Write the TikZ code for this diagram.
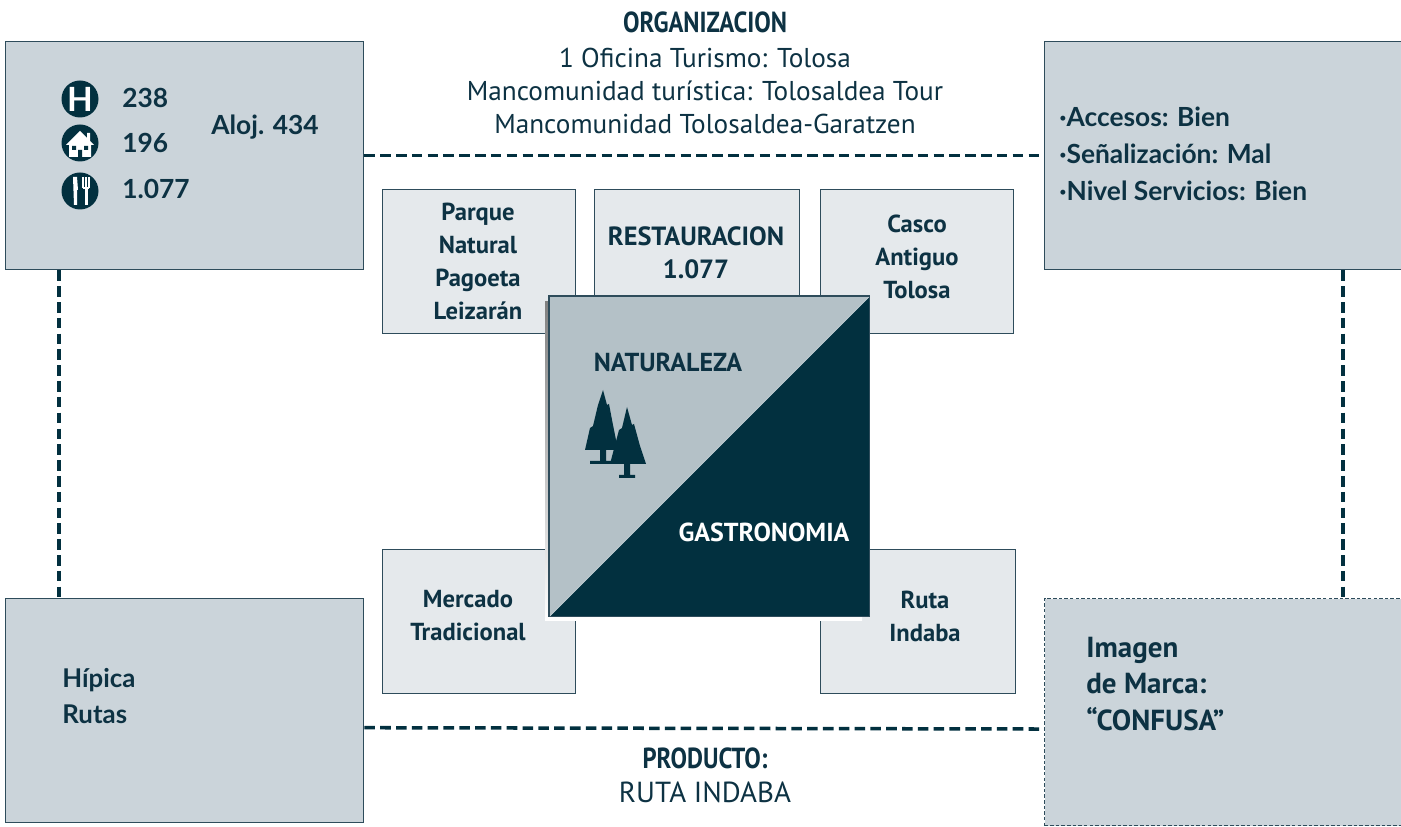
\documentclass[tikz,border=0pt]{standalone}
\usepackage{fontspec}
\usepackage{graphicx}
\setmainfont{PT Sans}
\newfontfamily\lato{Lato}
\usetikzlibrary{positioning,calc}

\definecolor{navy}{HTML}{02303F}
\definecolor{ink}{HTML}{0D3243}
\definecolor{edge}{HTML}{2E4C5B}
\definecolor{boxgrey}{HTML}{CBD4DA}
\definecolor{boxlight}{HTML}{E5E9EC}
\definecolor{naturefill}{HTML}{B4C1C7}
\definecolor{shade}{HTML}{CDD5DA}

\newcommand{\pxu}{0.02cm}

\tikzset{
  bigbox/.style={draw=edge, fill=boxgrey, line width=0.8pt, anchor=north west,
    inner sep=0pt, minimum width=358*\pxu, minimum height=228*\pxu},
  smallbox/.style={draw=edge, fill=boxlight, line width=0.7pt, anchor=north west,
    inner sep=0pt, minimum width=193*\pxu, minimum height=144*\pxu},
  link/.style={draw=navy, line width=2pt, dash pattern=on 6pt off 3pt},
  headtxt/.style={text=ink, inner sep=0pt, font=\bfseries\fontsize{16.5pt}{18pt}\selectfont},
  bodytxt/.style={text=ink, align=center, inner sep=0pt, font=\fontsize{15.5pt}{18.8pt}\selectfont},
  boxtxt/.style={text=ink, align=center, inner sep=0pt, font=\bfseries\fontsize{14pt}{18.8pt}\selectfont},
  factstxt/.style={text=ink, align=left, anchor=west, inner sep=0pt, font=\lato\bfseries\fontsize{15pt}{21pt}\selectfont},
  icon/.style={circle, fill=navy, minimum size=37*\pxu, inner sep=0pt}
}

\begin{document}
\begin{tikzpicture}[x=0.02cm, y=-0.02cm]
\useasboundingbox (0,0) rectangle (1401,827);
\fill[white] (0,0) rectangle (1401,827);

% corner boxes
\node[bigbox] (lodging) at (5,41) {};
\node[bigbox, minimum width=362*\pxu] (access) at (1044,41) {};
\node[bigbox, minimum height=224*\pxu] (riding) at (5,598) {};
\node[bigbox, minimum width=362*\pxu, minimum height=227*\pxu, line width=0.6pt,
  dash pattern=on 2pt off 1.2pt] (brand) at (1044,598) {};

% dashed links
\draw[link] (lodging.east) -- (access.west);
\draw[link] ($(riding.east)+(0,17)$) -- ($(brand.west)+(0,17)$);
\draw[link] ($(lodging.south west)+(54,0)$) -- ($(riding.north west)+(54,0)$);
\draw[link] ($(access.south west)+(299,0)$) -- ($(brand.north west)+(299,0)$);

% titles
\node[headtxt] (orgtitle) at (705,22) {\scalebox{0.85}[1]{ORGANIZACION}};
\node[bodytxt] (orgtext) at (705,91) {1 Oficina Turismo: Tolosa\\
  Mancomunidad turística: Tolosaldea Tour\\ Mancomunidad Tolosaldea-Garatzen};
\node[headtxt] (prodtitle) at (705,758) {\scalebox{0.85}[1]{PRODUCTO:}};
\node[bodytxt, font=\fontsize{16.5pt}{18.8pt}\selectfont] (prodtext) at (705,792) {RUTA INDABA};

% resources around the core
\node[smallbox] (park) at (382,189) {};
\node[smallbox, minimum width=205*\pxu] (dining) at (594,189) {};
\node[smallbox] (oldtown) at (820,189) {};
\node[smallbox] (market) at (382,549) {};
\node[smallbox, minimum width=195*\pxu] (route) at (820,549) {};
\node[boxtxt] at (478,261) {Parque\\ Natural\\ Pagoeta\\ Leizarán};
\node[boxtxt, font=\bfseries\fontsize{15pt}{18.8pt}\selectfont] at (696,253) {RESTAURACION\\ 1.077};
\node[boxtxt] at (917,257) {Casco\\ Antiguo\\ Tolosa};
\node[boxtxt] at (468,616) {Mercado\\ Tradicional};
\node[boxtxt] at (925,616) {Ruta\\ Indaba};

% core square
\fill[shade] (545,302) rectangle (862,621);
\node[minimum size=320*\pxu, inner sep=0pt, anchor=north west] (core) at (549,296) {};
\fill[naturefill] (core.north west) -- (core.north east) -- (core.south west) -- cycle;
\fill[navy] (core.north east) -- (core.south east) -- (core.south west) -- cycle;
\draw[boxgrey, line width=0.5pt] (core.south west) -- (core.north east);
\draw[edge, line width=0.8pt] (core.north west) rectangle (core.south east);
\node[boxtxt, font=\bfseries\fontsize{14.8pt}{18.8pt}\selectfont] (nature) at (668,362) {NATURALEZA};
\node[boxtxt, text=white, font=\bfseries\fontsize{14.8pt}{18.8pt}\selectfont] (gastro) at (764,532) {GASTRONOMIA};

% trees
\fill[navy] (603,390) -- (607,405) -- (609,404) -- (613,425) -- (618,450) -- (606,450)
  -- (606,461) -- (614,461) -- (614,464) -- (590,464) -- (590,461) -- (600,461)
  -- (600,450) -- (585,450) -- (590,428) -- (593,426) -- (598,405) -- cycle;
\fill[navy] (627,407) -- (632,425) -- (634,424) -- (640,446) -- (646,464) -- (630,464)
  -- (630,475) -- (635,475) -- (635,478) -- (619,478) -- (619,475) -- (624,475)
  -- (624,464) -- (610,464) -- (615,445) -- (619,430) -- (622,428) -- cycle;

% lodging facts
\node[icon] (hotel) at (80,99) {};
\node[text=white, inner sep=0pt, font=\lato\bfseries\fontsize{19pt}{19pt}\selectfont] at (hotel) {H};
\node[icon] (house) at (80,143) {};
\fill[white] (66,145) -- (80,131) -- (87,138) -- (87,133) -- (90,133) -- (90,141) -- (94,145)
  -- (91,145) -- (91,157) -- (69,157) -- (69,145) -- cycle;
\fill[navy] (72,146) rectangle (76,150) (84,146) rectangle (88,150) (78,150) rectangle (82,157);
\node[icon] (food) at (80,191) {};
\fill[white] (73,177) -- (77,177) -- (78,190) -- (77,190) -- (77,205) -- (74,205) -- cycle;
\draw[white, line width=0.9pt] (83,177) -- (83,188) (86,177) -- (86,188) (89,177) -- (89,188)
  (83,188) -- (89,188);
\fill[white] (84.5,188) rectangle (87.5,205);
\node[factstxt] (hotelnum) at (122,98) {238};
\node[factstxt] (housenum) at (122,143) {196};
\node[factstxt] (foodnum) at (122,189) {1.077};
\node[factstxt] (alojnum) at (211,127) {Aloj. 434};

% other facts
\node[factstxt, font=\lato\bfseries\fontsize{15pt}{21pt}\selectfont] (accesstxt) at (1059,154) {·Accesos: Bien\\ ·Señalización: Mal\\ ·Nivel Servicios: Bien};
\node[factstxt, font=\lato\bfseries\fontsize{14.7pt}{20.5pt}\selectfont] (ridingtxt) at (62,696) {Hípica\\ Rutas};
\node[factstxt, font=\bfseries\fontsize{16.5pt}{20.8pt}\selectfont] (brandtxt) at (1086,684) {Imagen\\ de Marca:\\ “CONFUSA”};
\end{tikzpicture}
\end{document}
